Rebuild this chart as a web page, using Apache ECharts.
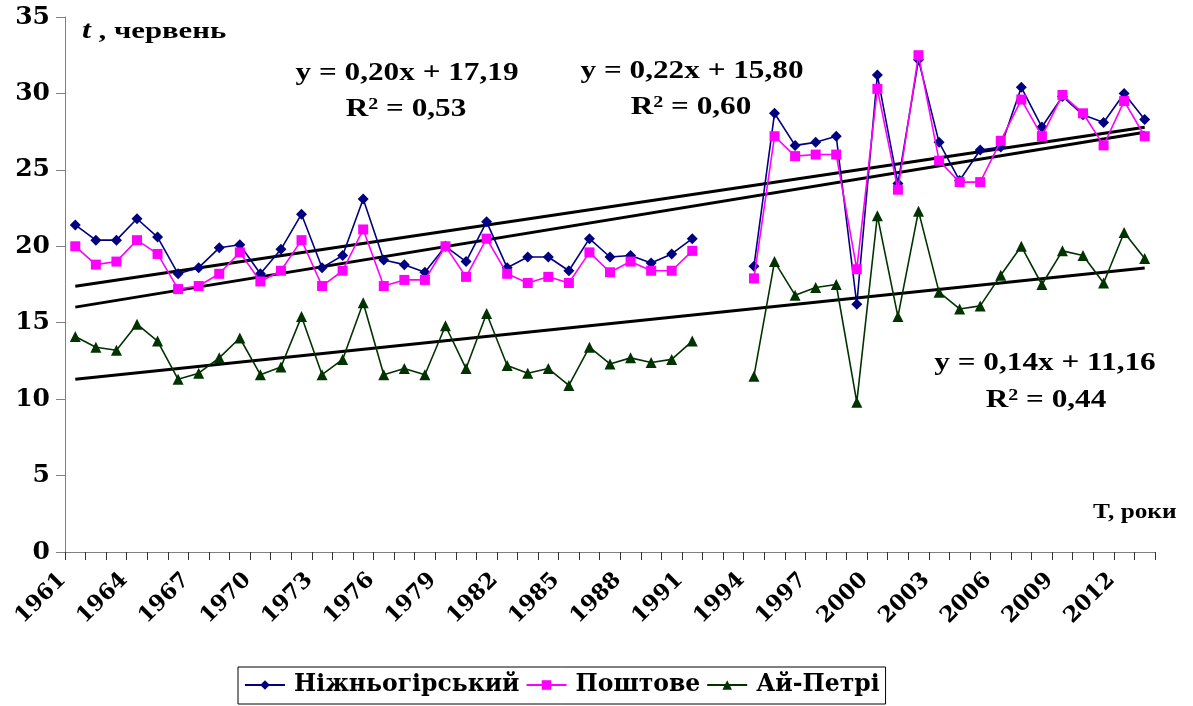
<!DOCTYPE html>
<html>
<head>
<meta charset="utf-8">
<script src="https://cdn.jsdelivr.net/npm/echarts@6/dist/echarts.min.js"></script>
<style>
  html, body { margin: 0; padding: 0; background: #fff; }
  #chart { width: 1193px; height: 706px; }
</style>
</head>
<body>
<div id="chart"></div>
<script>
// June mean temperature, three stations, 1961–2013 (no observations 1992–1993)
const years = [];
for (let y = 1961; y <= 2013; y++) years.push(String(y));

const nizhnohirskyi = [
  21.4, 20.4, 20.4, 21.8, 20.6, 18.2, 18.6, 19.9, 20.1, 18.2,
  19.8, 22.1, 18.6, 19.4, 23.1, 19.1, 18.8, 18.3, 20.0, 19.0,
  21.6, 18.6, 19.3, 19.3, 18.4, 20.5, 19.3, 19.4, 18.9, 19.5,
  20.5, null, null,
  18.7, 28.7, 26.6, 26.8, 27.2, 16.2, 31.2, 24.1, 32.2, 26.8,
  24.3, 26.3, 26.5, 30.4, 27.8, 29.8, 28.6, 28.1, 30.0, 28.3
];
const poshtove = [
  20.0, 18.8, 19.0, 20.4, 19.5, 17.2, 17.4, 18.2, 19.6, 17.7,
  18.4, 20.4, 17.4, 18.4, 21.1, 17.4, 17.8, 17.8, 20.0, 18.0,
  20.5, 18.2, 17.6, 18.0, 17.6, 19.6, 18.3, 19.0, 18.4, 18.4,
  19.7, null, null,
  17.9, 27.2, 25.9, 26.0, 26.0, 18.5, 30.3, 23.7, 32.5, 25.6,
  24.2, 24.2, 26.9, 29.6, 27.2, 29.9, 28.7, 26.6, 29.5, 27.2
];
const aiPetri = [
  14.1, 13.4, 13.2, 14.9, 13.8, 11.3, 11.7, 12.7, 14.0, 11.6,
  12.1, 15.4, 11.6, 12.6, 16.3, 11.6, 12.0, 11.6, 14.8, 12.0,
  15.6, 12.2, 11.7, 12.0, 10.9, 13.4, 12.3, 12.7, 12.4, 12.6,
  13.8, null, null,
  11.5, 19.0, 16.8, 17.3, 17.5, 9.8, 22.0, 15.4, 22.3, 17.0,
  15.9, 16.1, 18.1, 20.0, 17.5, 19.7, 19.4, 17.6, 20.9, 19.2
];

const seriesNames = ['Ніжньогірський', 'Поштове', 'Ай-Петрі'];
const seriesColors = ['#000080', '#FF00FF', '#003300'];
const seriesSymbols = ['diamond', 'rect', 'triangle'];
const seriesSymbolSizes = [11, 10, 11];

// Linear trends y = a·x + b, x = 1 for 1961
const trendSlopes = [0.20, 0.22, 0.14];
const trendIntercepts = [17.19, 15.80, 11.16];
const trendR2 = [0.53, 0.60, 0.44];
const trendLabelPos = [[407, 74, 406, 110], [692, 72, 691, 108], [1045, 364, 1046, 401]];

const yTicks = { min: 0, max: 35, interval: 5 };
const yTitle = 'червень';
const xTitle = 'T, роки';

const SERIF = '"Liberation Serif", "Times New Roman", serif';
const WIDE = '"DejaVu Serif", serif';
const STRETCH = 1.25;
const fmt = v => v.toFixed(2).replace('.', ',');

const chart = echarts.init(document.getElementById('chart'), null, { renderer: 'canvas' });

const dataSets = [nizhnohirskyi, poshtove, aiPetri];
const series = dataSets.map((d, i) => ({
  name: seriesNames[i],
  type: 'line',
  data: d,
  symbol: seriesSymbols[i],
  symbolSize: seriesSymbolSizes[i],
  showAllSymbol: true,
  connectNulls: false,
  color: seriesColors[i],
  lineStyle: { color: seriesColors[i], width: 1.6 },
  itemStyle: { color: seriesColors[i] },
  z: 3 + i,
  animation: false
}));

trendSlopes.forEach((a, i) => {
  const b = trendIntercepts[i];
  const n = years.length;
  series.push({
    name: 'trend' + i,
    type: 'line',
    data: [[years[0], a * 1 + b], [years[n - 1], a * n + b]],
    symbol: 'none',
    lineStyle: { color: '#000', width: 3 },
    z: 2,
    silent: true,
    animation: false
  });
});

const graphics = [
  {
    type: 'text', x: 82, y: 32, scaleX: 1.28,
    style: {
      text: '{i|t} , ' + yTitle,
      rich: {
        i: { fontFamily: SERIF, fontSize: 25, fontStyle: 'italic', fontWeight: 'bold', fill: '#000' }
      },
      fontFamily: SERIF, fontSize: 24, fontWeight: 'bold', fill: '#000',
      align: 'left', verticalAlign: 'middle'
    }
  },
  {
    type: 'text', x: 1093, y: 512, scaleX: 1.15,
    style: { text: xTitle, fontFamily: SERIF, fontSize: 22, fontWeight: 'bold', fill: '#000',
      align: 'left', verticalAlign: 'middle' }
  }
];
trendSlopes.forEach((a, i) => {
  const p = trendLabelPos[i];
  graphics.push({
    type: 'text', x: p[0], y: p[1], scaleX: STRETCH,
    style: {
      text: 'y = ' + fmt(a) + 'x + ' + fmt(trendIntercepts[i]),
      fontFamily: SERIF, fontSize: 25, fontWeight: 'bold', fill: '#000',
      align: 'center', verticalAlign: 'middle'
    }
  });
  graphics.push({
    type: 'text', x: p[2], y: p[3], scaleX: STRETCH,
    style: {
      text: 'R{s|2} = ' + fmt(trendR2[i]),
      rich: { s: { fontFamily: SERIF, fontSize: 16, fontWeight: 'bold', fill: '#000', verticalAlign: 'top', padding: [0, 0, 10, 0] } },
      fontFamily: SERIF, fontSize: 25, fontWeight: 'bold', fill: '#000',
      align: 'center', verticalAlign: 'middle'
    }
  });
});

chart.setOption({
  animation: false,
  backgroundColor: '#fff',
  grid: { left: 65, right: 38, top: 17, bottom: 154, containLabel: false },
  xAxis: {
    type: 'category',
    data: years,
    boundaryGap: true,
    axisLine: { lineStyle: { color: '#808080', width: 1 } },
    axisTick: { show: true, interval: 0, length: 8, inside: false, lineStyle: { color: '#333' } },
    axisLabel: {
      interval: 2, rotate: 45, margin: 12,
      padding: [0, 18, 8, 0],
      fontFamily: WIDE, fontSize: 22, fontWeight: 'bold', color: '#000'
    },
    splitLine: { show: false }
  },
  yAxis: {
    type: 'value',
    min: yTicks.min, max: yTicks.max, interval: yTicks.interval,
    axisLine: { show: true, lineStyle: { color: '#808080', width: 1 } },
    axisTick: { show: true, length: 9, inside: false, lineStyle: { color: '#808080' } },
    axisLabel: { margin: 15, fontFamily: WIDE, fontSize: 25, fontWeight: 'bold', color: '#000' },
    splitLine: { show: false }
  },
  legend: {
    data: seriesNames,
    left: 238, top: 667,
    padding: [6, 6, 7, 6],
    itemGap: 6,
    itemWidth: 40, itemHeight: 12,
    borderColor: '#000', borderWidth: 1, borderRadius: 0,
    textStyle: { fontFamily: WIDE, fontSize: 23.5, fontWeight: 'bold', color: '#000', padding: [0, 0, 0, 4] }
  },
  graphic: graphics,
  series: series
});
</script>
</body>
</html>
